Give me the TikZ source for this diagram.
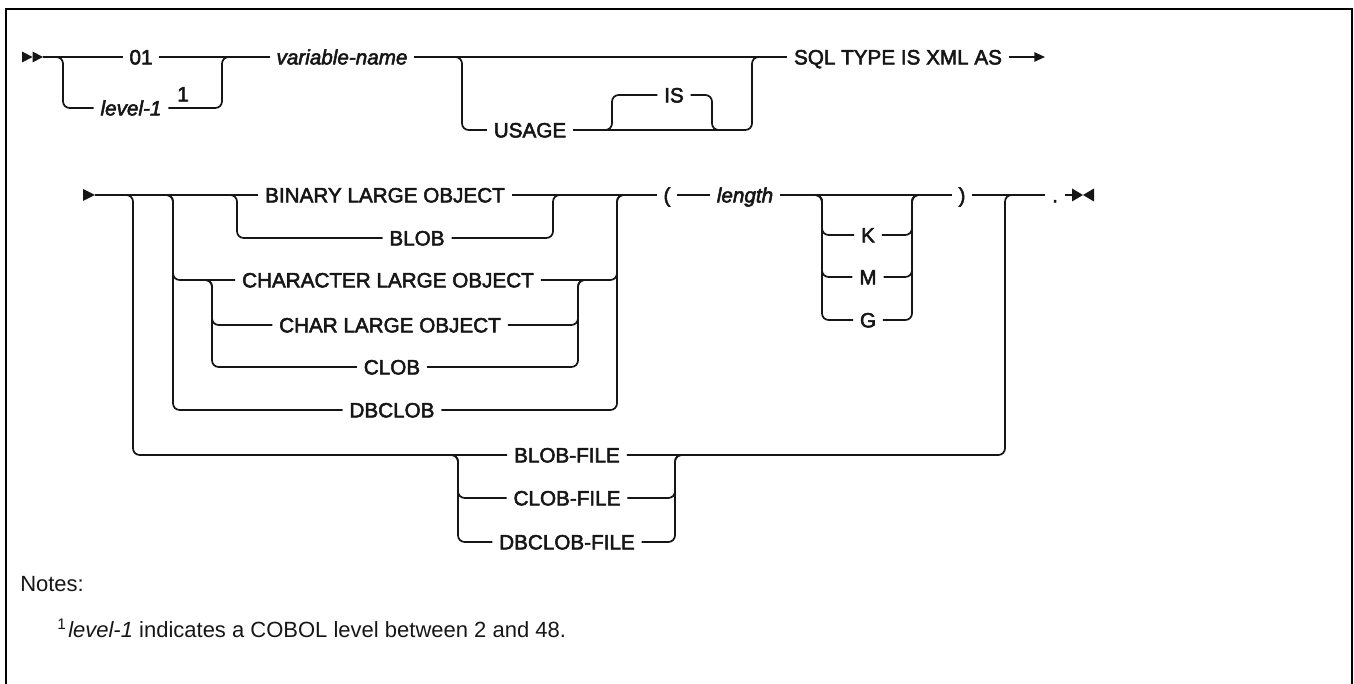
\documentclass[tikz,border=0pt]{standalone}
\usepackage{fontspec}
\setmainfont{Liberation Sans}
\newfontfamily\railfont{Liberation Sans}[FakeBold=2.6]
\usetikzlibrary{arrows.meta}
\definecolor{railink}{HTML}{161616}
\tikzset{
  kwd/.style={font=\railfont\fontsize{15.5}{18}\selectfont, text=railink,
    text height=11.1pt, text depth=0pt, inner xsep=5pt, inner ysep=0pt},
  varbox/.style={kwd, font=\railfont\itshape\fontsize{15.5}{18}\selectfont},
  trk/.style={draw=railink, line width=1.3pt, rounded corners=5pt},
  tip/.style={fill=railink},
  frm/.style={draw=black, line width=1.9pt},
  notetxt/.style={font=\fontsize{16.5}{19}\selectfont, text=railink, anchor=base west, inner sep=0pt},
}
\begin{document}
\begin{tikzpicture}[x=0.75pt, y=-0.75pt]
  \useasboundingbox (0,0) rectangle (1354,684);
  \draw[frm] (6,684) |- (1352,9) -- (1352,684);
  % first line
  \fill[tip] (22,51.5) -- (32.5,57) -- (22,62.5) -- cycle;
  \fill[tip] (32.5,51.5) -- (43,57) -- (32.5,62.5) -- cycle;
  \node[kwd] (n01) at (141,57) {01};
  \node[varbox] (lvl) at (131,108) {level-1};
  \node[kwd, inner sep=0pt] (fn1) at (183,94) {1};
  \node[varbox] (vname) at (342,57) {variable-name};
  \node[kwd] (usage) at (530,130) {USAGE};
  \node[kwd] (is) at (674,95) {IS};
  \node[kwd] (sqlxml) at (898,57) {SQL TYPE IS XML AS};
  \draw[trk] (43,57) -- (n01.west);
  \draw[trk] (n01.east) -- (vname.west);
  \draw[trk] (53,57) -| (63,108) -- (lvl.west);
  \draw[trk] (lvl.east) -| (222,57) -- (232,57);
  \draw[trk] (vname.east) -- (sqlxml.west);
  \draw[trk] (452,57) -| (462,130) -- (usage.west);
  \draw[trk] (usage.east) -| (752,57) -- (762,57);
  \draw[trk] (602,130) -| (612,95) -- (is.west);
  \draw[trk] (is.east) -| (712,130) -- (722,130);
  \draw[trk, -{Triangle[length=8pt,width=7pt]}] (sqlxml.east) -- (1045,57);
  % second line
  \fill[tip] (83,189) -- (95,195) -- (83,201) -- cycle;
  \node[kwd] (binlo) at (385,195) {BINARY LARGE OBJECT};
  \node[kwd] (blob) at (417,238) {BLOB};
  \node[kwd] (charlo) at (388,280) {CHARACTER LARGE OBJECT};
  \node[kwd] (chlo) at (390,325) {CHAR LARGE OBJECT};
  \node[kwd] (clob) at (392,367) {CLOB};
  \node[kwd] (dbclob) at (392,410) {DBCLOB};
  \node[kwd] (lpar) at (667,195) {(};
  \node[varbox] (len) at (745,195) {length};
  \node[kwd] (rpar) at (962,195) {)};
  \node[kwd] (dot) at (1055,195) {.};
  \draw[trk] (95,195) -- (binlo.west);
  \draw[trk] (binlo.east) -- (lpar.west);
  \draw[trk] (lpar.east) -- (len.west);
  \draw[trk] (len.east) -- (rpar.west);
  \draw[trk] (rpar.east) -- (dot.west);
  \draw[trk] (227,195) -| (237,238) -- (blob.west);
  \draw[trk] (blob.east) -| (553,195) -- (563,195);
  \draw[trk] (163,195) -| (173,280) -- (charlo.west);
  \draw[trk] (163,195) -| (173,410) -- (dbclob.west);
  \draw[trk] (charlo.east) -| (617,195) -- (627,195);
  \draw[trk] (dbclob.east) -| (617,195) -- (627,195);
  \draw[trk] (202,280) -| (212,325) -- (chlo.west);
  \draw[trk] (202,280) -| (212,367) -- (clob.west);
  \draw[trk] (chlo.east) -| (578,280) -- (588,280);
  \draw[trk] (clob.east) -| (578,280) -- (588,280);
  \foreach \lbl/\y in {K/235, M/277, G/320}{
    \node[kwd] (\lbl) at (868,\y) {\lbl};
    \draw[trk] (812,195) -| (822,\y) -- (\lbl.west);
    \draw[trk] (\lbl.east) -| (912,195) -- (922,195);}
  \node[kwd] (bfile) at (567,455) {BLOB-FILE};
  \node[kwd] (cfile) at (567,498) {CLOB-FILE};
  \node[kwd] (dfile) at (567,542) {DBCLOB-FILE};
  \draw[trk] (123,195) -| (133,455) -- (bfile.west);
  \draw[trk] (bfile.east) -| (1005,195) -- (1015,195);
  \foreach \nm in {cfile, dfile}{
    \draw[trk] (448,455) -| (458,0|-\nm.west) -- (\nm.west);
    \draw[trk] (\nm.east) -| (675,455) -- (685,455);}
  \draw[trk] (dot.east) -- (1072,195);
  \fill[tip] (1072,188.5) -- (1083,195) -- (1072,201.5) -- cycle;
  \fill[tip] (1094,188.5) -- (1083,195) -- (1094,201.5) -- cycle;
  % notes
  \node[notetxt] (notes) at (20,591) {Notes:};
  \node[notetxt, font=\fontsize{11.5}{13}\selectfont] (fnmark) at (57,629) {1};
  \node[notetxt] (notetext) at (68,637) {\itshape level-1\upshape{} indicates a COBOL level between 2 and 48.};
\end{tikzpicture}
\end{document}
